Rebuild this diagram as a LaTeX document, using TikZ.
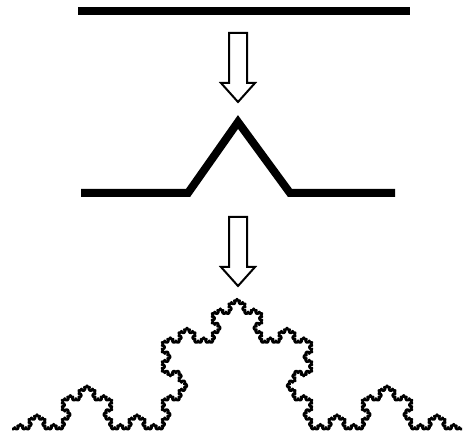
\documentclass[tikz,border=0pt]{standalone}
\usetikzlibrary{lindenmayersystems}
\definecolor{ink}{HTML}{000000}

% one generator step: the middle third is replaced by a bump
\pgfdeclarelindenmayersystem{kochrule}{
  \rule{F -> F+F--F+F}
}

\tikzset{
  thickline/.style={ink,line width=8pt,miter limit=10},
  arrowline/.style={ink,line width=2pt,line join=miter,fill=white},
  fractal/.style={ink,line width=2.6pt,line join=round},
  pics/downarrow/.style={code={
    \draw[arrowline] (-9,0) -- (9,0) -- (9,-50) -- (17,-50)
      -- (0,-69) -- (-17,-50) -- (-9,-50) -- cycle;
  }}
}

\begin{document}
\begin{tikzpicture}[x=1pt,y=1pt]
        \useasboundingbox (0,0) rectangle (463,439);

        % initiator
        \draw[thickline] (78,428) -- (410,428);
        \pic at (238,406) {downarrow};

        % first generation
        \draw[thickline] (81,246) -- (188,246) -- (238,317) -- (290,246) -- (395,246);
        \pic at (238,222) {downarrow};

        % fifth generation
        \begin{scope}[shift={(12,10)}]
          \draw[fractal] (0,0) lindenmayer system
            [lindenmayer system={kochrule, axiom=F, order=5, step=1.852pt, angle=60}];
        \end{scope}
      \end{tikzpicture}
\end{document}
